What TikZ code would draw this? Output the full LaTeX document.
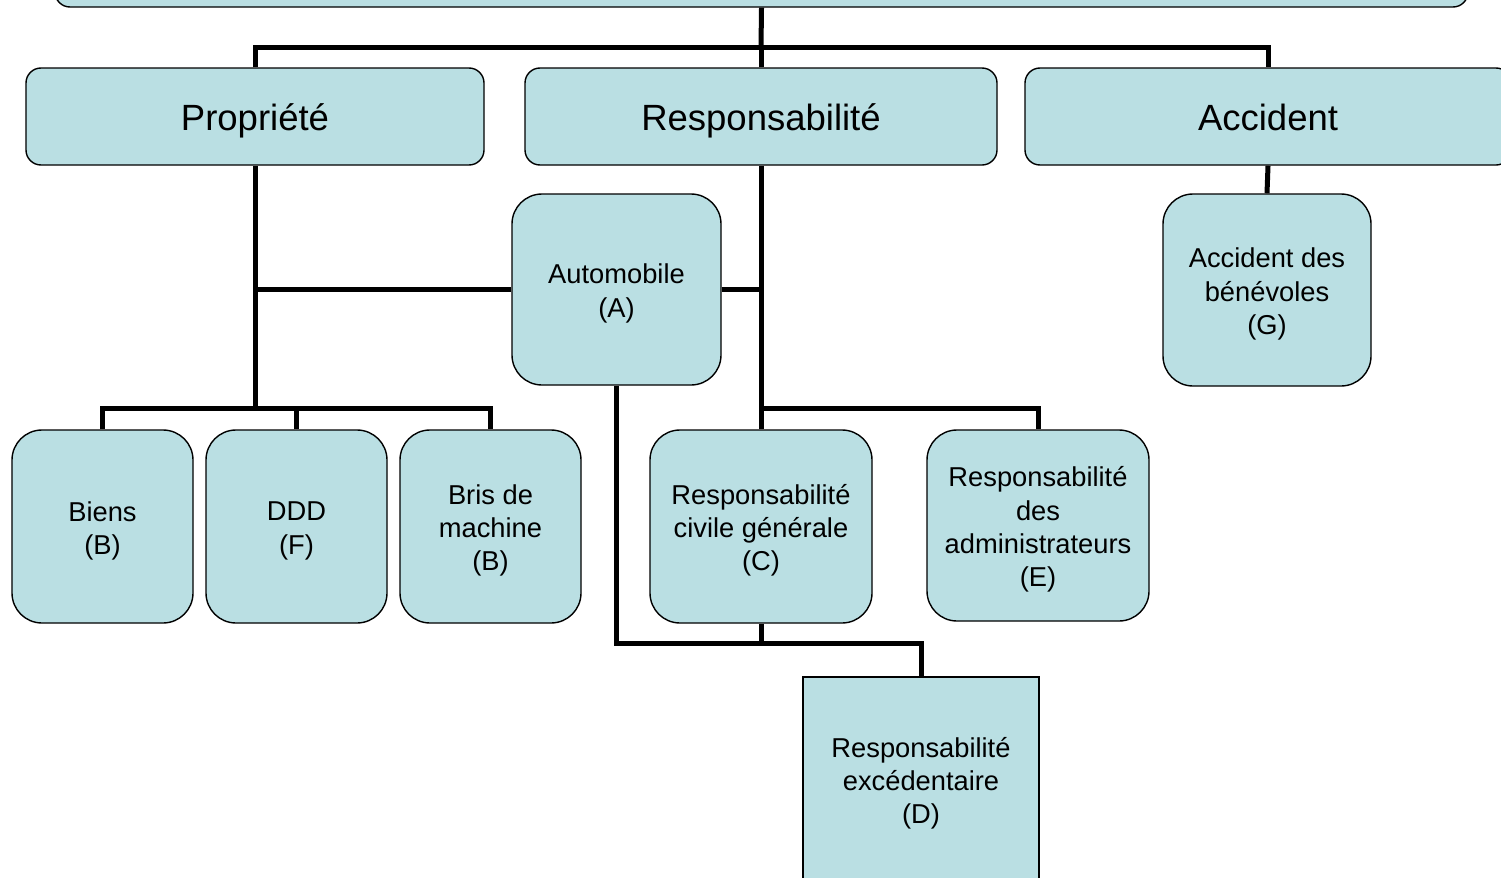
\documentclass[tikz,border=0pt]{standalone}
\usepackage{fontspec}
\setmainfont{Liberation Sans}
\definecolor{boxfill}{HTML}{BADFE3}
\newcommand{\linestrut}{\rule[-0.22em]{0pt}{1.2em}}
\tikzset{
  x=1bp, y=-1bp,
  box/.style={draw=black, line width=1.4bp, fill=boxfill, rounded corners=30bp, align=center, inner sep=0pt},
  bigbox/.style={box, rounded corners=15bp, font=\fontsize{36.5bp}{44bp}\selectfont,
    execute at begin node=\linestrut, execute at end node=\linestrut},
  smallbox/.style={box},
  smalltext/.style={align=center, inner sep=0pt, font=\fontsize{27.3bp}{33.2bp}\selectfont},
  link/.style={draw=black, line width=5bp, line join=miter}
}
\begin{document}
\begin{tikzpicture}
\useasboundingbox (0,0) rectangle (1501,877);
\clip (0,0) rectangle (1501,877);
\fill[white] (0,0) rectangle (1501,877);
% top box (cut off)
\node[bigbox, minimum width=1413bp, minimum height=100bp] (top) at (761.5,-43) {};
% level 1
\node[bigbox, minimum width=458bp, minimum height=97bp] (prop) at (255,116.5) {Propriété};
\node[bigbox, minimum width=472bp, minimum height=97bp] (resp) at (761,116.5) {Responsabilité};
\node[bigbox, minimum width=486bp, minimum height=97bp] (acc) at (1268,116.5) {Accident};
% level 2
\node[smallbox, minimum width=209bp, minimum height=191bp] (auto) at (616.5,289.5) {};
\node[smallbox, minimum width=208bp, minimum height=192bp] (g) at (1267,290) {};
% level 3
\node[smallbox, minimum width=181bp, minimum height=193bp] (biens) at (102.5,526.5) {};
\node[smallbox, minimum width=181bp, minimum height=193bp] (ddd) at (296.5,526.5) {};
\node[smallbox, minimum width=181bp, minimum height=193bp] (bris) at (490.5,526.5) {};
\node[smallbox, minimum width=222bp, minimum height=193bp] (rc) at (761,526.5) {};
\node[smallbox, minimum width=222bp, minimum height=191bp] (re) at (1038,525.5) {};
\node[smallbox, rounded corners=0pt, minimum width=236bp, minimum height=206bp] (rd) at (921,780) {};
% texts
\node[smalltext] (autot) at ([yshift=-4bp]auto.center) {Automobile\\(A)};
\node[smalltext] (gt) at ([yshift=-4bp]g.center) {Accident des\\bénévoles\\(G)};
\node[smalltext] (bienst) at ([yshift=-4.5bp]biens.center) {Biens\\(B)};
\node[smalltext] (dddt) at ([yshift=-4.5bp]ddd.center) {DDD\\(F)};
\node[smalltext] (brist) at ([yshift=-4bp]bris.center) {Bris de\\machine\\(B)};
\node[smalltext] (rct) at ([yshift=-4bp]rc.center) {Responsabilité\\civile générale\\(C)};
\node[smalltext] (ret) at ([yshift=-4bp]re.center) {Responsabilité\\des\\administrateurs\\(E)};
\node[smalltext] (rdt) at ([yshift=-3bp]rd.center) {Responsabilité\\excédentaire\\(D)};
% junctions
\coordinate (j0) at (761,47);
\coordinate (pj) at (255,408);
\coordinate (rj) at (761,408);
\coordinate (dj) at (921,643);
% connectors
\draw[link] (top.south) -- (j0);
\draw[link] (prop.north) |- (j0) -| (acc.north);
\draw[link] (resp.north) -- (j0);
\draw[link] (prop.south) -- (pj);
\draw[link] (auto.west) -- (prop.south |- auto.west);
\draw[link] (biens.north) |- (bris.north |- pj) -- (bris.north);
\draw[link] (ddd.north) -- (ddd.north |- pj);
\draw[link] (resp.south) -- (rj);
\draw[link] (auto.east) -- (resp.south |- auto.east);
\draw[link] (rc.north) -- (rj) -| (re.north);
\draw[link] (auto.south) |- (dj) -- (rd.north);
\draw[link] (rc.south) -- (rc.south |- dj);
\draw[link] (acc.south) -- (g.north);
\end{tikzpicture}
\end{document}
